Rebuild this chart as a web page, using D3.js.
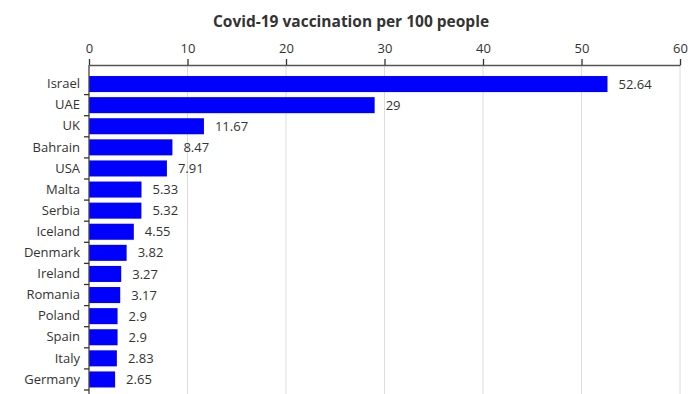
<!DOCTYPE html>
<html>
<head>
<meta charset="utf-8">
<script src="https://cdn.jsdelivr.net/npm/d3@7"></script>
<style>
  body { margin: 0; background: #fff; }
  text { font-family: "Open Sans", sans-serif; }
</style>
</head>
<body>
<div id="chart"></div>
<script>
// data
const countries = ["Israel", "UAE", "UK", "Bahrain", "USA", "Malta", "Serbia", "Iceland",
	"Denmark", "Ireland", "Romania", "Poland", "Spain", "Italy", "Germany"];
const doses = [52.64, 29, 11.67, 8.47, 7.91, 5.33, 5.32, 4.55, 3.82, 3.27, 3.17, 2.9, 2.9, 2.83, 2.65];
const x_ticks = [0, 10, 20, 30, 40, 50, 60];

const canvas_width = 697;
const canvas_height = 394;
const margin = {top: 65, left: 89, right: 17, bottom: 4};

let svg = d3.select("#chart").append("svg")
	.attr("width", canvas_width)
	.attr("height", canvas_height);

let x = d3.scaleLinear()
	.domain([0, 60])
	.range([margin.left, canvas_width - margin.right]);

let y = d3.scaleBand()
	.domain(countries)
	.range([73.5, 390])
	.paddingInner(0.24)
	.paddingOuter(0.12);

// vertical grid
svg.append("g")
	.selectAll("line")
	.data(x_ticks.slice(1))
	.join("line")
	.attr("x1", d => x(d))
	.attr("x2", d => x(d))
	.attr("y1", margin.top)
	.attr("y2", canvas_height)
	.attr("stroke", "#dcdcdc")
	.attr("stroke-width", 1);

// bars
svg.append("g")
	.selectAll("rect")
	.data(doses)
	.join("rect")
	.attr("x", x(0))
	.attr("y", (d, i) => y(countries[i]))
	.attr("width", d => x(d) - x(0))
	.attr("height", y.bandwidth())
	.attr("fill", "#0000ff");

// value labels
svg.append("g")
	.selectAll("text")
	.data(doses)
	.join("text")
	.attr("x", d => x(d) + 11)
	.attr("y", (d, i) => y(countries[i]) + y.bandwidth() / 2)
	.attr("dy", "0.35em")
	.attr("font-size", 13)
	.attr("fill", "#333")
	.text(d => d);

// top axis
let x_axis = svg.append("g")
	.attr("transform", `translate(0,${margin.top})`)
	.call(d3.axisTop(x).tickValues(x_ticks).tickSize(6).tickPadding(6).tickSizeOuter(0));
x_axis.select(".domain").attr("stroke", "#555").attr("stroke-width", 1.3);
x_axis.selectAll(".tick line").attr("stroke", "#333").attr("stroke-width", 1.3);
x_axis.selectAll(".tick text")
	.attr("font-size", 13)
	.attr("fill", "#333")
	.attr("font-family", "Open Sans, sans-serif");

// left axis: category labels, then the line and ticks at band edges
let y_axis = svg.append("g")
	.attr("transform", `translate(${margin.left},0)`)
	.call(d3.axisLeft(y).tickSize(0).tickPadding(9));
y_axis.select(".domain").remove();
y_axis.selectAll(".tick text")
	.attr("font-size", 13)
	.attr("fill", "#333")
	.attr("font-family", "Open Sans, sans-serif");

svg.append("line")
	.attr("x1", margin.left).attr("x2", margin.left)
	.attr("y1", margin.top).attr("y2", canvas_height)
	.attr("stroke", "#444").attr("stroke-width", 1.3);

svg.append("g")
	.selectAll("line")
	.data(countries)
	.join("line")
	.attr("x1", margin.left - 5)
	.attr("x2", margin.left)
	.attr("y1", d => y(d) + y.step() * (1 - y.paddingInner() / 2))
	.attr("y2", d => y(d) + y.step() * (1 - y.paddingInner() / 2))
	.attr("stroke", "#333")
	.attr("stroke-width", 1.3);

// title
svg.append("text")
	.attr("x", 351)
	.attr("y", 27)
	.attr("text-anchor", "middle")
	.attr("font-size", 15.5)
	.attr("font-weight", "bold")
	.attr("fill", "#333")
	.text("Covid-19 vaccination per 100 people");
</script>
</body>
</html>
